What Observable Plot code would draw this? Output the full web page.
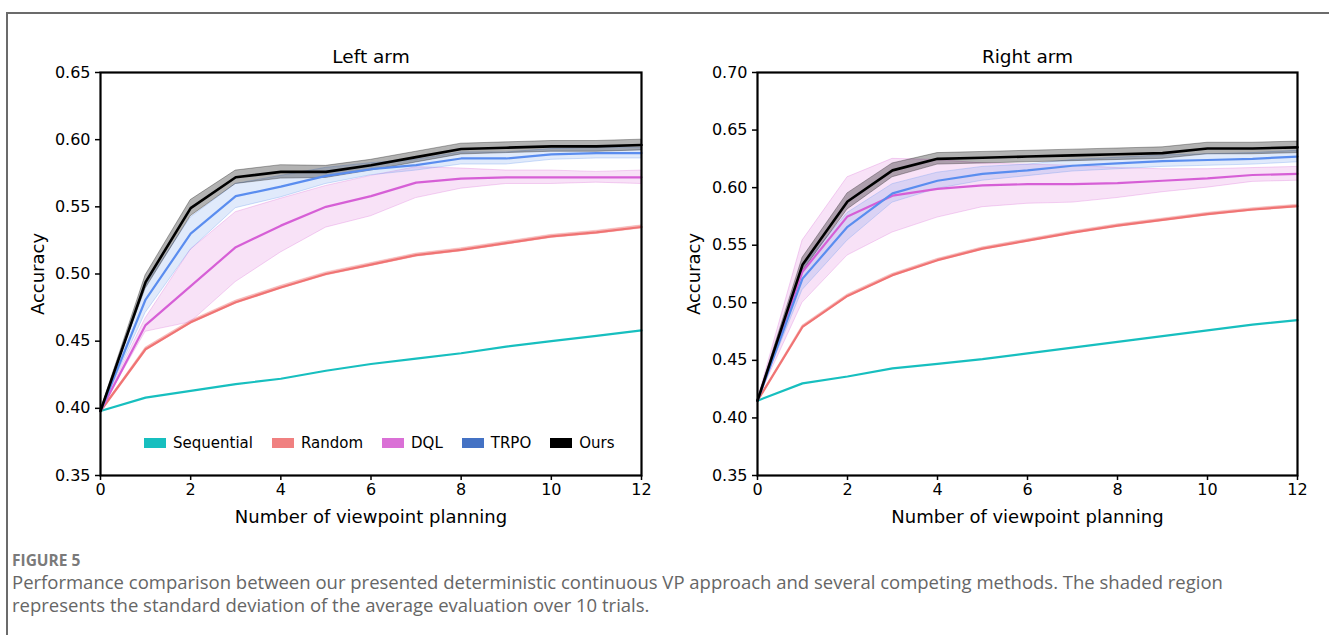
<!DOCTYPE html>
<html>
<head>
<meta charset="utf-8">
<script src="https://cdn.jsdelivr.net/npm/d3@7"></script>
<script src="https://cdn.jsdelivr.net/npm/@observablehq/plot@0.6"></script>
<style>
  body { margin: 0; background: #fff; width: 1329px; height: 635px; overflow: hidden; position: relative; }
  #outer { position: absolute; left: 6px; top: 12px; width: 1400px; height: 700px; border-left: 2px solid #6b6b6b; border-top: 2px solid #6b6b6b; }
  #left { position: absolute; left: 0; top: 40px; }
  #right { position: absolute; left: 660px; top: 40px; }
  #legL { position: absolute; left: 144px; top: 426px; }
  #legL span { margin-right: 19px !important; }
  #legL svg { margin-right: 7px !important; }
  #fig { position: absolute; left: 12px; top: 549px; font-family: "Open Sans", sans-serif; font-weight: 700; font-size: 15.5px; color: #7a7a7a; }
  #cap { position: absolute; left: 12px; top: 570px; font-family: "Open Sans", sans-serif; font-size: 18.5px; line-height: 23px; color: #666; }
</style>
</head>
<body>
<div id="outer"></div>
<div id="left"></div>
<div id="right"></div>
<div id="legL"></div>
<div id="fig">FIGURE 5</div>
<div id="cap">Performance comparison between our presented deterministic continuous VP approach and several competing methods. The shaded region<br>represents the standard deviation of the average evaluation over 10 trials.</div>
<script>
const steps = [0,1,2,3,4,5,6,7,8,9,10,11,12];
const xTicks = [0,2,4,6,8,10,12];
const methods = ["Sequential","Random","DQL","TRPO","Ours"];
const lineColors = ["#17bfbf","#f07474","#d65fd6","#5a8def","#000000"];
const legendColors = ["#17bfbf","#f08080","#da70d6","#4472c4","#000000"];
const bandColors = ["#17bfbf","#f08080","#da70d6","#6495ed","#000000"];
const bandOpacity = [0, 0.5, 0.2, 0.2, 0.3];

const xLabel = "Number of viewpoint planning";
const yLabel = "Accuracy";
const leftTitle = "Left arm";
const rightTitle = "Right arm";
const leftYTicks = [0.35,0.40,0.45,0.50,0.55,0.60,0.65];
const rightYTicks = [0.35,0.40,0.45,0.50,0.55,0.60,0.65,0.70];

// Left arm means
const leftSequential = [0.398,0.408,0.413,0.418,0.422,0.428,0.433,0.437,0.441,0.446,0.450,0.454,0.458];
const leftRandom     = [0.398,0.444,0.464,0.479,0.490,0.500,0.507,0.514,0.518,0.523,0.528,0.531,0.535];
const leftDQL        = [0.398,0.462,0.491,0.520,0.536,0.550,0.558,0.568,0.571,0.572,0.572,0.572,0.572];
const leftTRPO       = [0.398,0.481,0.530,0.558,0.565,0.573,0.578,0.581,0.586,0.586,0.589,0.590,0.590];
const leftOurs       = [0.398,0.494,0.549,0.572,0.576,0.576,0.581,0.587,0.593,0.594,0.595,0.595,0.596];
// Left arm standard deviations
const leftSequentialSd = [0,0,0,0,0,0,0,0,0,0,0,0,0];
const leftRandomSd     = [0,0.0012,0.0012,0.0012,0.0012,0.0012,0.0012,0.0012,0.0012,0.0012,0.0012,0.0012,0.0012];
const leftDQLSd        = [0,0.005,0.027,0.026,0.020,0.0155,0.015,0.0115,0.0075,0.005,0.005,0.004,0.005];
const leftTRPOSd       = [0,0.010,0.012,0.009,0.008,0.006,0.0045,0.004,0.0045,0.0045,0.004,0.004,0.004];
const leftOursSd       = [0,0.005,0.006,0.005,0.005,0.0045,0.004,0.004,0.004,0.004,0.004,0.004,0.004];

// Right arm means
const rightSequential = [0.415,0.430,0.436,0.443,0.447,0.451,0.456,0.461,0.466,0.471,0.476,0.481,0.485];
const rightRandom     = [0.415,0.479,0.506,0.524,0.537,0.547,0.554,0.561,0.567,0.572,0.577,0.581,0.584];
const rightDQL        = [0.415,0.527,0.575,0.593,0.599,0.602,0.603,0.603,0.604,0.606,0.608,0.611,0.612];
const rightTRPO       = [0.415,0.521,0.566,0.595,0.606,0.612,0.615,0.619,0.621,0.623,0.624,0.625,0.627];
const rightOurs       = [0.415,0.533,0.588,0.615,0.625,0.626,0.627,0.628,0.629,0.630,0.634,0.634,0.635];
// Right arm standard deviations
const rightSequentialSd = [0,0,0,0,0,0,0,0,0,0,0,0,0];
const rightRandomSd     = [0,0.0012,0.0012,0.0012,0.0012,0.0012,0.0012,0.0012,0.0012,0.0012,0.0012,0.0012,0.0012];
const rightDQLSd        = [0,0.027,0.034,0.032,0.025,0.019,0.017,0.016,0.013,0.010,0.008,0.006,0.006];
const rightTRPOSd       = [0,0.010,0.012,0.008,0.007,0.006,0.005,0.005,0.005,0.005,0.005,0.005,0.005];
const rightOursSd       = [0,0.006,0.007,0.006,0.005,0.005,0.005,0.005,0.005,0.005,0.005,0.005,0.005];

function buildRows(means, sds) {
  const rows = [];
  methods.forEach((m, i) => steps.forEach((s, j) => {
    rows.push({step: s, method: m, value: means[i][j], lo: means[i][j] - sds[i][j], hi: means[i][j] + sds[i][j]});
  }));
  return rows;
}

function panel({title, domain, yTicks, means, sds, width, marginLeft, marginRight, yLabelDx}) {
  const rows = buildRows(means, sds);
  const bandMarks = [];
  [1,2,3,4].forEach(i => {
    const d = rows.filter(r => r.method === methods[i]);
    bandMarks.push(Plot.areaY(d, {x: "step", y1: "lo", y2: "hi", fill: bandColors[i], fillOpacity: bandOpacity[i],
      stroke: bandColors[i], strokeOpacity: i === 1 ? 0.25 : 0.3, strokeWidth: 1}));
  });
  const lineMarks = methods.map((m, i) => Plot.lineY(rows.filter(r => r.method === m),
    {x: "step", y: "value", stroke: lineColors[i], strokeWidth: i === 4 ? 2.6 : 2.2}));
  return Plot.plot({
    width, height: 495, marginTop: 32, marginBottom: 60, marginLeft, marginRight,
    style: {fontFamily: "DejaVu Sans", fontSize: "16px", color: "#000", background: "transparent", overflow: "visible"},
    x: {domain: [0, 12]},
    y: {domain},
    marks: [
      ...bandMarks,
      ...lineMarks,
      Plot.frame({stroke: "#000", strokeWidth: 2.2}),
      Plot.axisX({ticks: xTicks, tickSize: 5, tickPadding: 3, strokeWidth: 1.5, label: null, fontSize: 16}),
      Plot.axisY({ticks: yTicks, tickFormat: d3.format(".2f"), tickSize: 5, tickPadding: 5, strokeWidth: 1.5, label: null, fontSize: 16}),
      Plot.text([title], {frameAnchor: "top", dy: -15, fontSize: 18.5, lineAnchor: "middle"}),
      Plot.text([xLabel], {frameAnchor: "bottom", dy: 42, fontSize: 18, lineAnchor: "middle"}),
      Plot.text([yLabel], {frameAnchor: "left", dx: yLabelDx, rotate: -90, fontSize: 18, textAnchor: "middle", lineAnchor: "middle"})
    ]
  });
}

document.getElementById("left").appendChild(panel({
  title: leftTitle, domain: [0.35, 0.65], yTicks: leftYTicks,
  means: [leftSequential, leftRandom, leftDQL, leftTRPO, leftOurs],
  sds: [leftSequentialSd, leftRandomSd, leftDQLSd, leftTRPOSd, leftOursSd],
  width: 660, marginLeft: 100, marginRight: 19, yLabelDx: -62
}));
document.getElementById("right").appendChild(panel({
  title: rightTitle, domain: [0.35, 0.70], yTicks: rightYTicks,
  means: [rightSequential, rightRandom, rightDQL, rightTRPO, rightOurs],
  sds: [rightSequentialSd, rightRandomSd, rightDQLSd, rightTRPOSd, rightOursSd],
  width: 669, marginLeft: 97, marginRight: 32, yLabelDx: -63
}));
document.getElementById("legL").appendChild(Plot.legend({
  color: {type: "ordinal", domain: methods, range: legendColors},
  swatchWidth: 22, swatchHeight: 10,
  style: {fontFamily: "DejaVu Sans", fontSize: "15px", color: "#000", background: "transparent"}
}));
</script>
</body>
</html>
